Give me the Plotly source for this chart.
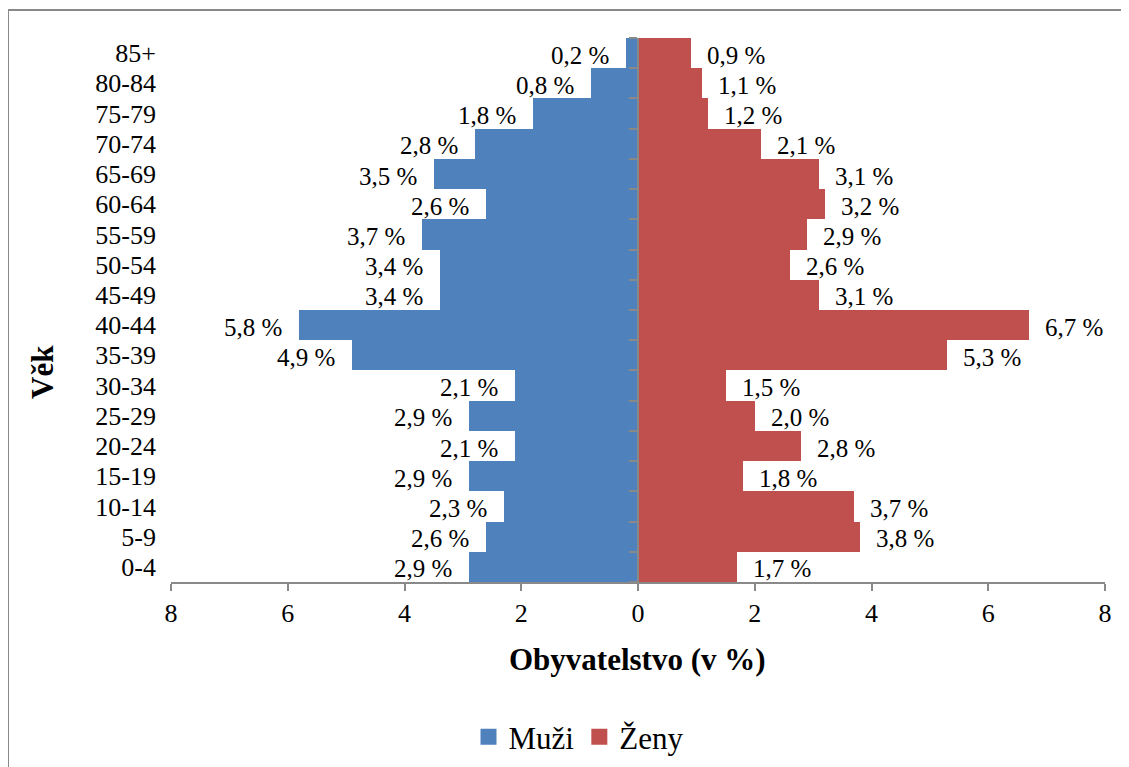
import plotly.graph_objects as go

age_groups = ["0-4", "5-9", "10-14", "15-19", "20-24", "25-29", "30-34", "35-39", "40-44",
              "45-49", "50-54", "55-59", "60-64", "65-69", "70-74", "75-79", "80-84", "85+"]
men = [2.9, 2.6, 2.3, 2.9, 2.1, 2.9, 2.1, 4.9, 5.8, 3.4, 3.4, 3.7, 2.6, 3.5, 2.8, 1.8, 0.8, 0.2]
women = [1.7, 3.8, 3.7, 1.8, 2.8, 2.0, 1.5, 5.3, 6.7, 3.1, 2.6, 2.9, 3.2, 3.1, 2.1, 1.2, 1.1, 0.9]
series_names = ["Muži", "Ženy"]
x_ticks = [-8, -6, -4, -2, 0, 2, 4, 6, 8]
x_ticktext = ["8", "6", "4", "2", "0", "2", "4", "6", "8"]

BLUE = "#4F81BD"
RED = "#C0504D"
GRAY = "#898989"
FONT = "Liberation Serif, Times New Roman, serif"
FS_LABEL = 25
FS_TICK = 26
FS_TITLE = 31
FS_LEGEND = 31

def fmt(v):
    return f"{v:.1f}".replace(".", ",") + " %"

fig = go.Figure()
fig.add_trace(go.Bar(y=age_groups, x=[-v for v in men], orientation="h", name=series_names[0],
                     marker=dict(color=BLUE, line=dict(width=0)), yaxis="y", hoverinfo="skip",
                     showlegend=False))
fig.add_trace(go.Bar(y=age_groups, x=women, orientation="h", name=series_names[1],
                     marker=dict(color=RED, line=dict(width=0)), yaxis="y2", hoverinfo="skip",
                     showlegend=False))
# legend entries with larger square swatches
for name, col in zip(series_names, [BLUE, RED]):
    fig.add_trace(go.Scatter(x=[None], y=[age_groups[0]], mode="markers", name=name,
                             marker=dict(symbol="square", size=17, color=col), hoverinfo="skip"))

annotations = []
for cat, v in zip(age_groups, men):
    annotations.append(dict(x=-v, y=cat, xref="x", yref="y", text=fmt(v), showarrow=False,
                            xanchor="right", yanchor="middle", xshift=-15, yshift=-2,
                            font=dict(family=FONT, size=FS_LABEL, color="black")))
for cat, v in zip(age_groups, women):
    annotations.append(dict(x=v, y=cat, xref="x", yref="y", text=fmt(v), showarrow=False,
                            xanchor="left", yanchor="middle", xshift=14, yshift=-2,
                            font=dict(family=FONT, size=FS_LABEL, color="black")))

OFF = 8  # page body margin
W, H = 1129 - OFF, 767 - OFF
ml, mr, mt, mb = 171 - OFF, 1129 - 1105, 38 - OFF, 767 - 582
pw, ph = W - ml - mr, H - mt - mb

def px_x(p):
    return (p - OFF - ml) / pw

def px_y(p):
    return (H - mb - (p - OFF)) / ph

annotations.append(dict(x=px_x(637), y=px_y(659), xref="paper", yref="paper", text="<b>Obyvatelstvo (v %)</b>",
                        showarrow=False, xanchor="center", yanchor="middle",
                        font=dict(family=FONT, size=FS_TITLE, color="black")))
annotations.append(dict(x=px_x(42), y=px_y(372), xref="paper", yref="paper", text="<b>Věk</b>", textangle=-90,
                        showarrow=False, xanchor="center", yanchor="middle",
                        font=dict(family=FONT, size=FS_TITLE, color="black")))

shapes = [
    dict(type="line", xref="paper", yref="paper", x0=px_x(8), x1=px_x(8), y0=px_y(10), y1=px_y(790),
         line=dict(color=GRAY, width=2)),
    dict(type="line", xref="paper", yref="paper", x0=px_x(8), x1=px_x(1140), y0=px_y(10), y1=px_y(10),
         line=dict(color=GRAY, width=2)),
]

cat_axis = dict(type="category", categoryorder="array", categoryarray=age_groups,
                range=[-0.5, len(age_groups) - 0.5], tickmode="linear", tick0=0, dtick=1)

fig.update_layout(
    width=W, height=H,
    margin=dict(l=ml, r=mr, t=mt, b=mb, autoexpand=False),
    paper_bgcolor="white", plot_bgcolor="white",
    barmode="overlay", bargap=0,
    font=dict(family=FONT, size=FS_TICK, color="black"),
    xaxis=dict(range=[-8, 8], tickvals=x_ticks, ticktext=x_ticktext, showgrid=False, zeroline=False,
               showline=True, linecolor=GRAY, linewidth=1.5, ticks="outside", ticklen=7,
               tickcolor=GRAY, tickwidth=1.5, tickfont=dict(family=FONT, size=FS_TICK), fixedrange=True),
    yaxis=dict(**cat_axis, showgrid=False, zeroline=False, showline=False, ticks="",
               ticklabelstandoff=14, tickfont=dict(family=FONT, size=FS_TICK)),
    yaxis2=dict(**cat_axis, overlaying="y", anchor="free", position=0.5, side="left",
                showgrid=False, zeroline=False, showline=True, linecolor=GRAY, linewidth=1.5,
                ticks="outside", tickson="boundaries", ticklen=8, tickcolor=GRAY, tickwidth=1.5,
                showticklabels=False),
    legend=dict(orientation="h", x=px_x(579), xanchor="center", y=px_y(737), yanchor="middle",
                font=dict(family=FONT, size=FS_LEGEND), traceorder="normal",
                itemwidth=30),
    annotations=annotations,
    shapes=shapes,
)

fig.write_html("out.html")
